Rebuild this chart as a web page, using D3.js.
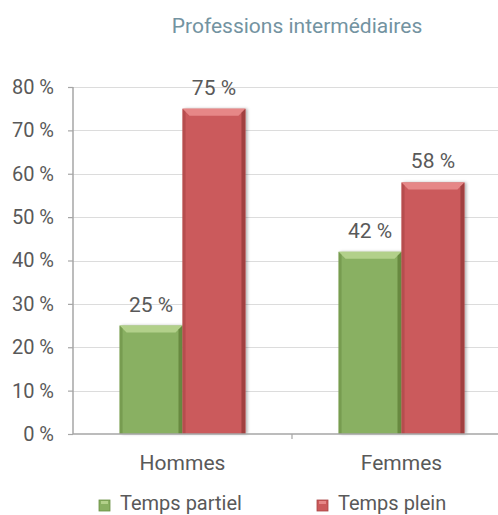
<!DOCTYPE html>
<html>
<head>
<meta charset="utf-8">
<script src="https://cdn.jsdelivr.net/npm/d3@7"></script>
<style>
  html, body { margin: 0; padding: 0; background: #fff; }
  svg { display: block; font-family: Roboto, "Open Sans", sans-serif; }
</style>
</head>
<body>
<svg id="chart"></svg>
<script>
// data
const categories = ['Hommes', 'Femmes'];
const series = ['Temps partiel', 'Temps plein'];
const partiel = [0.25, 0.42];
const plein = [0.75, 0.58];
const yTicks = [0, 0.1, 0.2, 0.3, 0.4, 0.5, 0.6, 0.7, 0.8];

const W = 498, H = 515;
const svg = d3.select('#chart').attr('width', W).attr('height', H);

const colors = {
  'Temps partiel': { body: '#89b062', top: '#b2d08a', dark: '#6a8f44', edge: '#5f8038' },
  'Temps plein':   { body: '#cb5a5b', top: '#e68787', dark: '#a84444', edge: '#963a3a' }
};

// plot runs past the right edge, like the original
const x = d3.scaleBand().domain(categories).range([73, 511]);
const x1 = d3.scaleBand().domain(series).range([0, x.bandwidth()]).paddingOuter(0.74);
const y = d3.scaleLinear().domain([0, 0.8]).range([434, 87]);

const defs = svg.append('defs');
const f = defs.append('filter').attr('id', 'shadow')
  .attr('x', '-20%').attr('y', '-10%').attr('width', '150%').attr('height', '120%');
f.append('feDropShadow').attr('dx', 2).attr('dy', 0).attr('stdDeviation', 1.6)
  .attr('flood-color', '#000').attr('flood-opacity', 0.3);

// title
svg.append('text')
  .attr('x', 297).attr('y', 33)
  .attr('text-anchor', 'middle')
  .attr('fill', '#7393a1')
  .style('font-size', '21px')
  .text('Professions intermédiaires');

// gridlines
svg.append('g').selectAll('line')
  .data(yTicks.slice(1))
  .join('line')
    .attr('x1', 73).attr('x2', W)
    .attr('y1', d => Math.round(y(d)) + 0.5).attr('y2', d => Math.round(y(d)) + 0.5)
    .attr('stroke', '#dcdcdc').attr('stroke-width', 1);

// y axis
const yAxis = d3.axisLeft(y).tickValues(yTicks)
  .tickFormat(d => Math.round(d * 100) + ' %')
  .tickSize(5).tickPadding(14);
const gy = svg.append('g').attr('transform', 'translate(73,0)').call(yAxis);
gy.select('.domain').attr('stroke', '#a6a6a6').attr('stroke-width', 1.5)
  .attr('d', `M0,${y(0.8)}V${y(0)}`);
gy.selectAll('.tick line').attr('stroke', '#a6a6a6').attr('stroke-width', 1.2);
gy.selectAll('.tick text').attr('fill', '#595959').style('font-size', '20px')
  .style('font-family', 'Roboto, sans-serif');

// bars
const rows = categories.map((c, i) => ({ cat: c, vals: [partiel[i], plein[i]] }));
const bars = [];
rows.forEach(r => r.vals.forEach((v, j) => bars.push({ cat: r.cat, s: series[j], v })));

const gb = svg.append('g');
const bw = x1.bandwidth();
const bev = 7;
bars.forEach(d => {
  const x0 = x(d.cat) + x1(d.s);
  const y0 = y(d.v), y1 = y(0);
  const c = colors[d.s];
  const g = gb.append('g');
  g.append('rect')
    .attr('x', x0).attr('y', y0).attr('width', bw).attr('height', y1 - y0)
    .attr('fill', c.body).attr('filter', 'url(#shadow)');
  // top bevel
  g.append('path')
    .attr('d', `M${x0},${y0}H${x0 + bw}L${x0 + bw - bev},${y0 + bev}H${x0 + bev}Z`)
    .attr('fill', c.top);
  // left edge
  g.append('path')
    .attr('d', `M${x0},${y0}L${x0 + 3},${y0 + 3}V${y1}H${x0}Z`)
    .attr('fill', c.dark).attr('opacity', 0.6);
  // right edge
  g.append('path')
    .attr('d', `M${x0 + bw},${y0}L${x0 + bw - 4},${y0 + 4}V${y1}H${x0 + bw}Z`)
    .attr('fill', c.edge).attr('opacity', 0.8);
  // value label
  svg.append('text')
    .attr('x', x0 + bw / 2).attr('y', y0 - 14)
    .attr('text-anchor', 'middle')
    .attr('fill', '#595959')
    .style('font-size', '21px')
    .text(Math.round(d.v * 100) + ' %');
});

// x axis
const gx = svg.append('g').attr('transform', `translate(0,${y(0)})`);
gx.append('line').attr('x1', 73).attr('x2', W).attr('y1', 0).attr('y2', 0)
  .attr('stroke', '#a6a6a6').attr('stroke-width', 1.5);
gx.selectAll('line.tk')
  .data(categories.slice(1))
  .join('line').attr('class', 'tk')
    .attr('x1', d => x(d)).attr('x2', d => x(d))
    .attr('y1', 0).attr('y2', 5)
    .attr('stroke', '#a6a6a6').attr('stroke-width', 1.2);
gx.selectAll('text')
  .data(categories)
  .join('text')
    .attr('x', d => x(d) + x.bandwidth() / 2)
    .attr('y', 36)
    .attr('text-anchor', 'middle')
    .attr('fill', '#595959')
    .style('font-size', '21px')
    .text(d => d);

// legend
const legX = [99, 317];
const lg = svg.append('g');
series.forEach((s, i) => {
  const c = colors[s];
  lg.append('rect').attr('x', legX[i]).attr('y', 500).attr('width', 11).attr('height', 11)
    .attr('fill', c.body).attr('stroke', c.dark).attr('stroke-width', 0.8);
  lg.append('rect').attr('x', legX[i] + 2).attr('y', 501).attr('width', 7).attr('height', 3)
    .attr('fill', c.top);
  lg.append('text').attr('x', legX[i] + 21).attr('y', 510)
    .attr('fill', '#595959')
    .style('font-size', '20px')
    .text(s);
});
</script>
</body>
</html>
